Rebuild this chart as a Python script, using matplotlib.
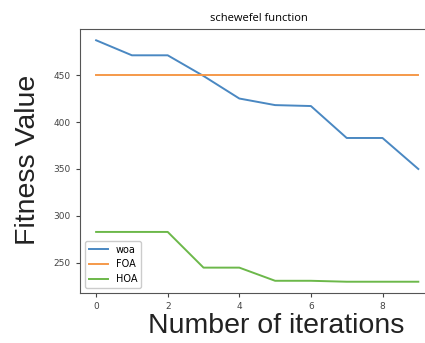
import numpy as np
import matplotlib.pyplot as plt

iterations = np.arange(10)
woa = [487, 471, 471, 449, 425, 418, 417, 383, 383, 350]
foa = [450, 450, 450, 450, 450, 450, 450, 450, 450, 450]
hoa = [283, 283, 283, 245, 245, 231, 231, 230, 230, 230]

fig = plt.figure(figsize=(4.25, 3.43), dpi=100)
# the reference is cut off at the right, so the axes run past the figure edge
ax = fig.add_axes([80 / 425, 50 / 343, 358 / 425, 264 / 343])

ax.plot(iterations, woa, color='#4a88c2', lw=1.4, label='woa')
ax.plot(iterations, foa, color='#f5994a', lw=1.4, label='FOA')
ax.plot(iterations, hoa, color='#6cb84a', lw=1.4, label='HOA')

ax.set_xlim(-0.45, 9.55)
ax.set_ylim(218, 499)
ax.set_xticks([0, 2, 4, 6, 8])
ax.set_yticks([250, 300, 350, 400, 450])
ax.tick_params(labelsize=6.5, colors='#444444', length=3)
for s in ax.spines.values():
    s.set_color('#555555')
ax.spines['right'].set_visible(False)

ax.set_title('schewefel function', fontsize=8, family='Open Sans')
fig.text(0.066, 0.534, 'Fitness Value', rotation=90, fontsize=20.5,
         family='Liberation Sans', ha='center', va='center', color='#222222')
fig.text(0.65, 0.05, 'Number of iterations', fontsize=20.5,
         family='Liberation Sans', ha='center', va='center', color='#222222')

ax.legend(loc='lower left', fontsize=7, framealpha=1)

fig.savefig('out.png', dpi=100)
